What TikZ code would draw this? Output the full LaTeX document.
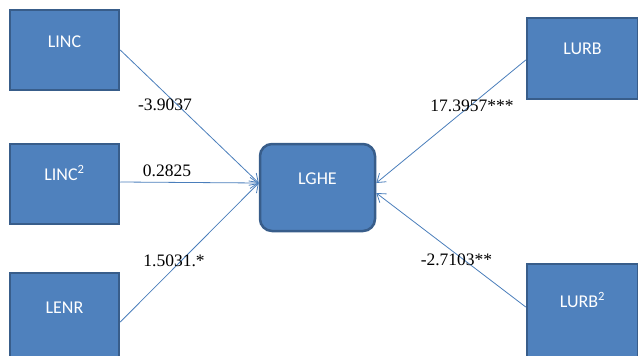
\documentclass[tikz,border=0pt]{standalone}
\usepackage{fontspec}
\setmainfont{Liberation Serif}
\newfontfamily\boxfont{Carlito}
\usetikzlibrary{arrows.meta}
\definecolor{boxfill}{HTML}{4F81BD}
\definecolor{boxline}{HTML}{385D8A}
\definecolor{linkline}{HTML}{4A7EBB}
\begin{document}
\begin{tikzpicture}[x=1pt, y=-1pt,
    box/.style={draw=boxline, fill=boxfill, line width=2.5pt, inner sep=0pt,
        text=white, font=\boxfont\fontsize{18}{20}\selectfont},
    coef/.style={anchor=base, inner sep=0pt, font=\fontsize{17.5}{20}\selectfont},
    link/.style={draw=linkline, line width=0.8pt, -{Straight Barb[length=8pt, width=11pt]}}]
    \useasboundingbox (0,0) rectangle (638,356);

    \node[box, minimum width=109pt, text height=37pt, text depth=43pt] (linc) at (64.5, 50) {LINC};
    \node[box, minimum width=109pt, text height=36pt, text depth=44pt] (linc2) at (64.5, 184) {LINC\textsuperscript{2}};
    \node[box, minimum width=109pt, text height=40pt, text depth=58pt] (lenr) at (64.5, 322) {LENR};
    \node[box, minimum width=115pt, text height=40pt, text depth=47pt, rounded corners=12pt] (lghe) at (317.5, 187.5) {LGHE};
    \node[box, minimum width=111pt, text height=36pt, text depth=45pt] (lurb) at (582.5, 58.5) {LURB};
    \node[box, minimum width=111pt, text height=43pt, text depth=55pt] (lurb2) at (582.5, 313) {LURB\textsuperscript{2}};

    \draw[link] (linc.east) -- ([yshift=4.5pt]lghe.west);
    \draw[link] ([yshift=2pt]linc2.east) -- ([yshift=4.5pt]lghe.west);
    \draw[link] (lenr.east) -- ([yshift=4.5pt]lghe.west);
    \draw[link] ([yshift=-1.5pt]lurb.west) -- ([yshift=4.5pt]lghe.east);
    \draw[link] ([yshift=6pt]lurb2.west) -- ([yshift=-5.5pt]lghe.east);

    \node[coef] (b1) at (165, 110) {-3.9037};
    \node[coef] (b2) at (167, 176) {0.2825};
    \node[coef] (b3) at (174, 266) {1.5031.*};
    \node[coef] (b4) at (472, 111) {17.3957***};
    \node[coef] (b5) at (456.5, 265) {-2.7103**};
\end{tikzpicture}
\end{document}
